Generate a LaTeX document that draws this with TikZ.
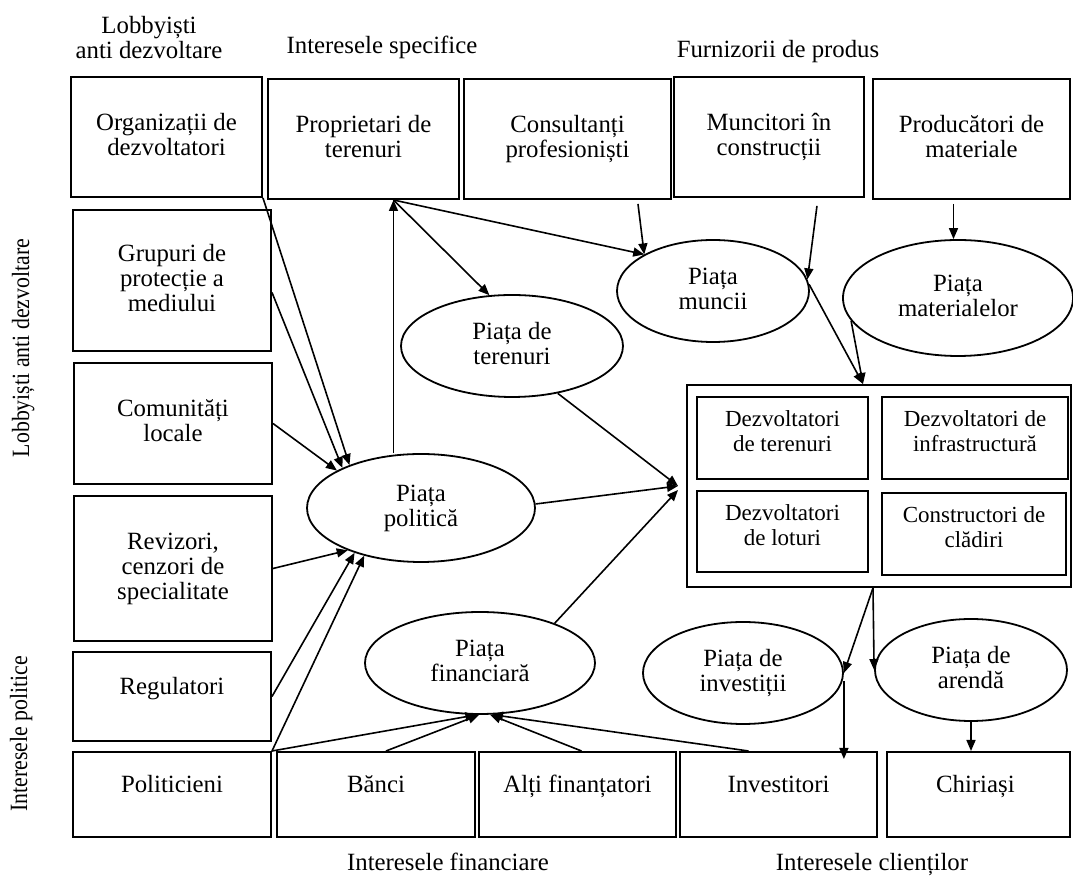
\documentclass[tikz,border=0pt]{standalone}
\usepackage{fontspec}
\setmainfont{Liberation Serif}
\usetikzlibrary{shapes.geometric,arrows.meta}

\begin{document}
\begin{tikzpicture}[x=0.5pt,y=-0.5pt,
  every node/.style={font=\fontsize{12.4}{12.5}\selectfont, align=center, text depth=2.6pt},
  lbl/.style={text height=8.6pt},
  box/.style={draw, line width=1pt, inner sep=1pt},
  lowbox/.style={box, text height=8.6pt, text depth=10.6pt},
  subbox/.style={box, font=\fontsize{11.5}{12.5}\selectfont, text height=20.4pt, text depth=6.5pt},
  market/.style={draw, ellipse, line width=0.9pt, inner sep=0pt},
  arr/.style={line width=0.8pt, -{Triangle[length=5.5pt,width=4.5pt]}}
]
\useasboundingbox (0,0) rectangle (1073,876);

% actors
\foreach \nm/\st/\px/\py/\wa/\hb/\txt in {
  org/box/166.5/137/95.5/60/{Organizații de\\dezvoltatori},
  prop/box/363.5/139/95.5/60/{Proprietari de\\terenuri},
  cons/box/567.5/139/103.5/60/{Consultanți\\profesioniști},
  munc/box/769/137/95/60/{Muncitori în\\construcții},
  prod/box/971.5/139/98.5/60/{Producători de\\materiale},
  grup/box/172/280.5/99/70.5/{Grupuri de\\protecție a\\mediului},
  comun/box/173/423.5/99/60.5/{Comunități\\locale},
  reviz/box/173/568.5/99/72.5/{Revizori,\\cenzori de\\specialitate},
  regul/lowbox/172/696.5/99/44.5/{Regulatori},
  polit/lowbox/172/794.5/99/42.5/{Politicieni},
  banci/lowbox/376/794.5/99/42.5/{Bănci},
  alti/lowbox/577.5/794.5/98.5/42.5/{Alți finanțatori},
  invest/lowbox/778.5/794.5/98.5/42.5/{Investitori},
  chir/lowbox/978.5/794.5/91.5/42.5/{Chiriași}
  } {
  \node[\st, minimum width=\wa pt, minimum height=\hb pt] (\nm) at (\px,\py) {\txt};
}

% developers
\node[box, minimum width=192pt, minimum height=101pt] (devs) at (879,486) {};
\node[subbox, minimum width=85.5pt, minimum height=41pt] (dterr) at (782.5,438) {Dezvoltatori\\de terenuri};
\node[subbox, minimum width=93pt, minimum height=41pt] (dinfr) at (975,438) {Dezvoltatori de\\infrastructură};
\node[subbox, minimum width=85.5pt, minimum height=40.5pt] (dlot) at (782.5,531.5) {Dezvoltatori\\de loturi};
\node[subbox, minimum width=92pt, minimum height=41pt] (dcons) at (974,534) {Constructori de\\clădiri};

% markets
\node[market, minimum width=114pt, minimum height=54pt] (pol) at (421,508) {Piața\\politică};
\node[market, minimum width=111pt, minimum height=51pt] (ter) at (512,346) {Piața de\\terenuri};
\node[market, minimum width=96pt, minimum height=51pt] (mun) at (713,291) {Piața\\muncii};
\node[market, minimum width=115pt, minimum height=58pt] (mat) at (958,298) {Piața\\materialelor};
\node[market, minimum width=115pt, minimum height=51pt] (fin) at (480,663) {Piața\\financiară};
\node[market, minimum width=100pt, minimum height=51pt] (inv) at (743,673) {Piața de\\investiții};
\node[market, minimum width=96pt, minimum height=51pt] (are) at (971,670) {Piața de\\arendă};

% group labels
\node (lobtop) at (149,40) {Lobbyiști\\anti dezvoltare};
\node[lbl] (spec) at (382,48) {Interesele specifice};
\node[lbl] (furn) at (778,52) {Furnizorii de produs};
\node[lbl, rotate=90] (loblft) at (23,348) {\scalebox{0.88}[1]{Lobbyiști anti dezvoltare}};
\node[lbl, rotate=90] (pollft) at (21,734) {\scalebox{0.88}[1]{Interesele politice}};
\node[lbl] (fintxt) at (448,865) {Interesele financiare};
\node[lbl] (clitxt) at (872,865) {Interesele clienților};

\coordinate (pb) at ([xshift=15pt]prop.south);
\coordinate (ot) at ([xshift=-8pt]devs.north);
\coordinate (ob) at ([xshift=-3pt]devs.south);
\coordinate (ow) at ([xshift=-4pt]devs.west);

\draw[arr] (org.south east) -- (pol.149);
\draw[arr] ([yshift=-6pt]grup.east) -- (pol.153);
\draw[arr] (comun.east) -- (pol.156);
\draw[arr] (reviz.east) -- (pol.210);
\draw[arr] (regul.east) -- (pol.214);
\draw[arr] (polit.north east) -- (pol.220);
\draw[arr] (pol.north -| pb) -- (pb);
\draw[arr] (pb) -- (ter.114);
\draw[arr] (pb) -- (mun.152);
\draw[arr, shorten <=2pt] ([xshift=35pt]cons.south) -- (mun.152);
\draw[arr, shorten <=4pt] ([xshift=24.5pt]munc.south) -- (mun.7);
\draw[arr, shorten <=2pt] ([xshift=-9pt]prod.south) -- ([xshift=-9pt]prod.south |- mat.north);
\draw[arr] (mun.4) -- (ot);
\draw[arr] (mat.192) -- (ot);
\draw[arr] (ter.314) -- (ow);
\draw[arr] (pol.2) -- (ow);
\draw[arr] (fin.28) -- ([yshift=-2pt]ow);
\draw[arr] (polit.north east) -- (fin.266);
\draw[arr] ([xshift=5pt]banci.north) -- (fin.269);
\draw[arr] ([xshift=2pt]alti.north) -- (fin.281);
\draw[arr] ([xshift=-15pt]invest.north) -- (fin.283);
\draw[arr] (ob) -- (inv.east);
\draw[arr] (ob) -- (are.west);
\draw[arr] ([yshift=-4pt]inv.east) -- ([yshift=-4pt]inv.east |- invest.north);
\draw[arr] (are.south) -- (are.south |- chir.north);
\end{tikzpicture}
\end{document}
